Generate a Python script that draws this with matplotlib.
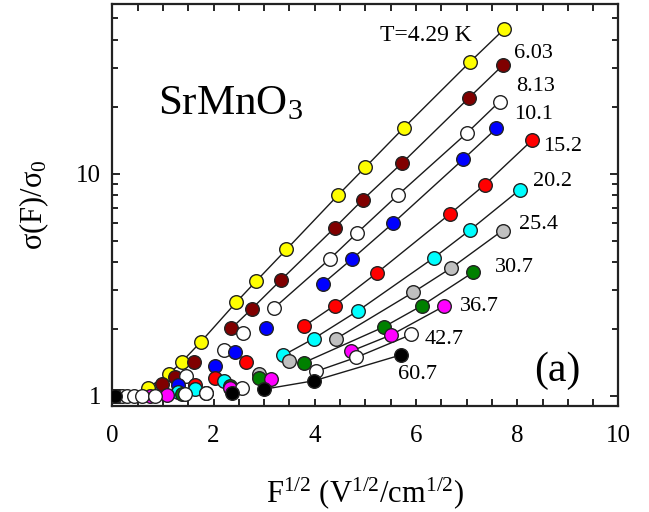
import matplotlib
matplotlib.use('Agg')
import matplotlib.pyplot as plt
from matplotlib.ticker import MultipleLocator, FixedLocator, NullFormatter
import numpy as np

plt.rcParams['font.family'] = ['Liberation Serif', 'DejaVu Serif']
plt.rcParams['mathtext.fontset'] = 'custom'
plt.rcParams['mathtext.rm'] = 'Liberation Serif'
plt.rcParams['mathtext.it'] = 'Liberation Serif:italic'

# temperature labels (K)
temps = ['T=4.29 K', '6.03', '8.13', '10.1', '15.2', '20.2', '25.4', '30.7', '36.7', '42.7', '60.7']
colors = ['#ffff00', '#800000', '#ffffff', '#0000ff', '#ff0000', '#00ffff',
          '#c0c0c0', '#008000', '#ff00ff', '#ffffff', '#000000']

# F^1/2 values and sigma(F)/sigma_0 for each temperature, low field first
x_429 = [0.0, 0.1, 0.71, 1.13, 1.37, 1.75, 2.45, 2.84, 3.44, 4.46, 5.00, 5.76, 7.07, 7.74]
y_429 = [1.0, 1.0, 1.09, 1.26, 1.42, 1.75, 2.64, 3.28, 4.56, 8.01, 10.7, 16.1, 31.9, 44.7]
x_603 = [0.0, 0.1, 0.99, 1.24, 1.62, 2.35, 2.76, 3.33, 4.39, 4.95, 5.73, 7.05, 7.71]
y_603 = [1.0, 1.0, 1.13, 1.22, 1.42, 2.01, 2.47, 3.32, 5.70, 7.64, 11.2, 22.0, 30.7]
x_813 = [0.0, 0.1, 1.46, 2.20, 2.59, 3.20, 4.30, 4.84, 5.65, 7.00, 7.65]
y_813 = [1.0, 1.0, 1.23, 1.61, 1.91, 2.49, 4.14, 5.42, 8.05, 15.2, 21.1]
x_101 = [0.0, 0.1, 1.29, 2.02, 2.43, 3.04, 4.16, 4.74, 5.55, 6.93, 7.59]
y_101 = [1.0, 1.0, 1.12, 1.36, 1.57, 2.01, 3.20, 4.14, 6.00, 11.6, 16.0]
x_152 = [0.0, 0.1, 1.64, 2.02, 2.64, 3.79, 4.39, 5.23, 6.67, 7.36, 8.30]
y_152 = [1.0, 1.0, 1.12, 1.20, 1.42, 2.06, 2.55, 3.58, 6.59, 8.93, 14.2]
x_202 = [0.0, 0.1, 1.29, 1.64, 2.21, 3.37, 3.98, 4.86, 6.35, 7.06, 8.05]
y_202 = [1.0, 1.0, 1.04, 1.07, 1.17, 1.52, 1.81, 2.42, 4.18, 5.56, 8.47]
x_254 = [0.0, 0.1, 1.85, 2.89, 3.50, 4.41, 5.95, 6.70, 7.71]
y_254 = [1.0, 1.0, 1.03, 1.26, 1.43, 1.80, 2.93, 3.77, 5.55]
x_307 = [0.0, 0.1, 1.37, 2.33, 2.90, 3.78, 5.36, 6.12, 7.13]
y_307 = [1.0, 1.0, 1.02, 1.11, 1.20, 1.41, 2.04, 2.55, 3.60]
x_367 = [0.0, 0.1, 0.75, 1.08, 2.33, 3.14, 4.72, 5.51, 6.55]
y_367 = [1.0, 1.0, 1.0, 1.01, 1.08, 1.19, 1.59, 1.88, 2.53]
x_427 = [0.0, 0.09, 0.19, 0.29, 0.42, 0.58, 0.84, 1.44, 1.85, 2.56, 4.03, 4.82, 5.91]
y_427 = [1.0, 1.0, 1.0, 1.0, 1.0, 1.0, 1.0, 1.02, 1.03, 1.08, 1.29, 1.49, 1.89]
x_607 = [0.02, 0.06, 2.36, 2.99, 3.99, 5.71]
y_607 = [1.0, 1.0, 1.03, 1.07, 1.17, 1.53]

xs = [x_429, x_603, x_813, x_101, x_152, x_202, x_254, x_307, x_367, x_427, x_607]
ys = [y_429, y_603, y_813, y_101, y_152, y_202, y_254, y_307, y_367, y_427, y_607]
# index of first point on the linear Poole-Frenkel line
line_start = [2, 5, 5, 6, 5, 5, 5, 5, 6, 10, 3]

# label anchor (left, middle) in data coords
lab_x = [5.28, 7.93, 7.97, 7.93, 8.52, 8.31, 8.03, 7.55, 6.86, 6.17, 5.65]
lab_y = [42.1, 34.6, 24.6, 18.4, 13.2, 9.2, 5.9, 3.78, 2.53, 1.80, 1.25]
lab_size = [17, 16, 16, 16, 16, 16, 16, 16, 16, 16, 16]

fig = plt.figure(figsize=(6.49, 5.12), dpi=100)
ax = fig.add_axes([0.173, 0.207, 0.780, 0.785])

for i in range(len(xs)):
    s = line_start[i]
    ax.plot(xs[i][s:], ys[i][s:], color='#1a1a1a', lw=1.0, zorder=2)
for i in range(len(xs)):
    ax.plot(xs[i], ys[i], 'o', ms=9.8, mfc=colors[i], mec='#222222', mew=1.0,
            ls='none', zorder=3 + i * 0.01)
    ax.text(lab_x[i], lab_y[i], temps[i], fontsize=lab_size[i], ha='left', va='center')

ax.set_yscale('log')
ax.set_xlim(0, 10)
ax.set_ylim(0.9, 58)
ax.xaxis.set_major_locator(MultipleLocator(2))
ax.xaxis.set_minor_locator(MultipleLocator(0.5))
ax.yaxis.set_major_locator(FixedLocator([1, 10]))
ax.yaxis.set_minor_locator(FixedLocator([2, 3, 4, 5, 6, 7, 8, 9, 20, 30, 40, 50]))
ax.yaxis.set_minor_formatter(NullFormatter())
ax.set_yticklabels(['1', '10'])
ax.tick_params(which='both', direction='in', top=True, right=True, labelsize=18, width=1.2, pad=8)
ax.tick_params(which='major', length=6)
ax.tick_params(which='minor', length=4.5)
ax.tick_params(axis='x', which='both', length=5)
ax.tick_params(axis='x', pad=14)
for sp in ax.spines.values():
    sp.set_linewidth(1.6)
    sp.set_color('#222222')

ax.text(0.9, 20.5, 'SrMnO$_3$', fontsize=31, ha='left', va='center')
ax.text(8.8, 1.30, '(a)', fontsize=30, ha='center', va='center')

ax.set_xlabel('F$^{1/2}$ (V$^{1/2}$/cm$^{1/2}$)', fontsize=22, labelpad=20)
ax.set_ylabel('σ(F)/σ$_0$', fontsize=22, labelpad=18)

plt.savefig('out.png', dpi=100)
